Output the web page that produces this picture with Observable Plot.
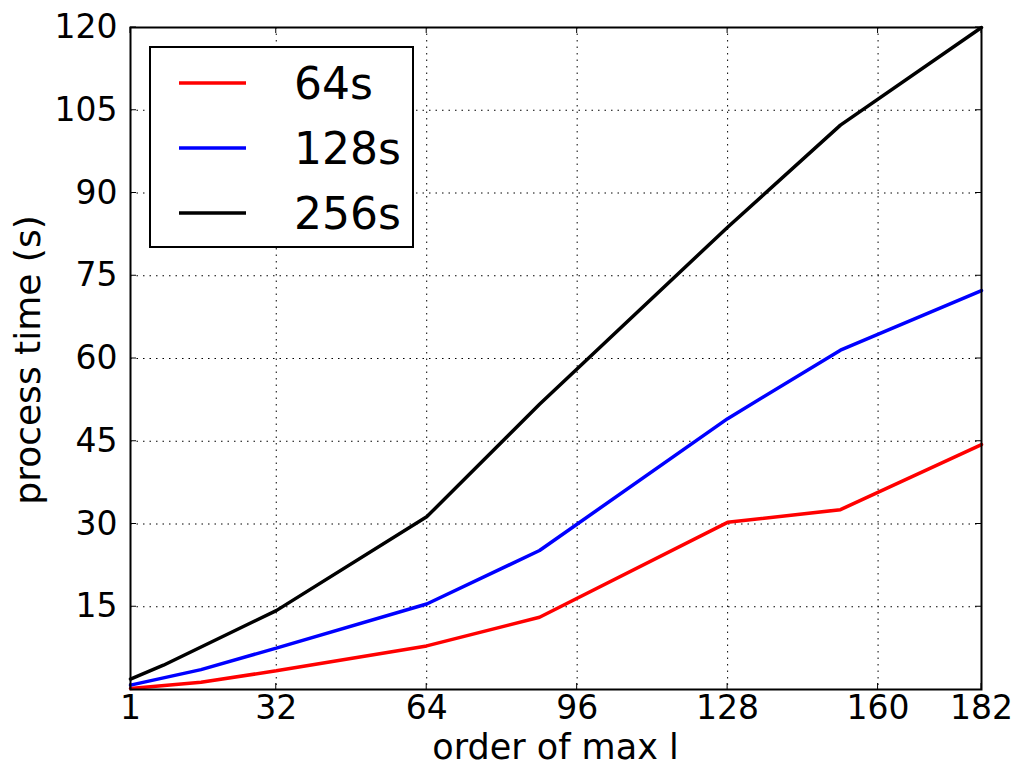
<!DOCTYPE html>
<html>
<head>
<meta charset="utf-8">
<script src="https://cdn.jsdelivr.net/npm/d3@7"></script>
<script src="https://cdn.jsdelivr.net/npm/@observablehq/plot@0.6"></script>
<style>
  html, body { margin: 0; padding: 0; background: #fff; }
  svg { display: block; }
</style>
</head>
<body>
<div id="chart"></div>
<script>
// Data
const seriesNames = ["64s", "128s", "256s"];
const seriesColors = ["#ff0000", "#0000ff", "#000000"];
const x64 = [1, 16, 32, 64, 88, 128, 152, 182];
const y64 = [0.2, 1.3, 3.4, 7.9, 13.1, 30.3, 32.6, 44.4];
const x128 = [1, 16, 32, 64, 88, 128, 152, 182];
const y128 = [0.8, 3.6, 7.5, 15.5, 25.2, 49.1, 61.5, 72.3];
const x256 = [1, 8, 32, 64, 88, 128, 152, 182];
const y256 = [1.9, 4.4, 14.3, 31.3, 51.7, 83.8, 102.3, 120];
const xTicks = [1, 32, 64, 96, 128, 160, 182];
const yTicks = [15, 30, 45, 60, 75, 90, 105, 120];
const xLabel = "order of max l";
const yLabel = "process time (s)";

const rows = [];
[[x64, y64], [x128, y128], [x256, y256]].forEach(([xs, ys], i) => {
  xs.forEach((x, j) => rows.push({series: seriesNames[i], x, y: ys[j]}));
});

const FONT = "DejaVu Sans";
const plot = Plot.plot({
  width: 1024,
  height: 767,
  marginLeft: 130,
  marginRight: 43,
  marginTop: 27,
  marginBottom: 78,
  style: {fontFamily: FONT, background: "#fff", color: "#000"},
  x: {domain: [1, 182]},
  y: {domain: [0, 120]},
  color: {domain: seriesNames, range: seriesColors},
  marks: [
    Plot.gridX(xTicks, {stroke: "#000", strokeOpacity: 1, strokeWidth: 1, strokeDasharray: "1.5,5"}),
    Plot.gridY(yTicks, {stroke: "#000", strokeOpacity: 1, strokeWidth: 1, strokeDasharray: "1.5,5"}),
    Plot.line(rows, {x: "x", y: "y", z: "series", stroke: "series", strokeWidth: 3.5, strokeLinejoin: "miter"}),
    Plot.frame({stroke: "#000", strokeWidth: 2}),
    Plot.axisX({ticks: xTicks, tickSize: 0, tickPadding: 6, fontSize: 33, label: null, tickFormat: d => String(d)}),
    Plot.axisY({ticks: yTicks, tickSize: 0, tickPadding: 13, fontSize: 33, label: null, tickFormat: d => String(d)})
  ]
});
document.getElementById("chart").appendChild(plot);

const svg = d3.select(plot);
const sx = plot.scale("x"), sy = plot.scale("y");
const L = 130, R = 1024 - 43, T = 27, B = 767 - 78;
const tl = 6;
const tg = svg.append("g").attr("stroke", "#000").attr("stroke-width", 1);
xTicks.forEach(v => {
  const px = sx.apply(v);
  tg.append("line").attr("x1", px).attr("x2", px).attr("y1", B).attr("y2", B - tl);
  tg.append("line").attr("x1", px).attr("x2", px).attr("y1", T).attr("y2", T + tl);
});
yTicks.forEach(v => {
  const py = sy.apply(v);
  tg.append("line").attr("x1", L).attr("x2", L + tl).attr("y1", py).attr("y2", py);
  tg.append("line").attr("x1", R).attr("x2", R - tl).attr("y1", py).attr("y2", py);
});

// Axis labels
svg.append("text")
  .attr("x", (L + R) / 2).attr("y", 759)
  .attr("text-anchor", "middle")
  .attr("font-family", FONT).attr("font-size", 35)
  .attr("fill", "#000")
  .text(xLabel);
svg.append("text")
  .attr("transform", `translate(40,${(T + B) / 2 + 2}) rotate(-90)`)
  .attr("text-anchor", "middle")
  .attr("font-family", FONT).attr("font-size", 36)
  .attr("fill", "#000")
  .text(yLabel);

// Legend
const lg = svg.append("g");
lg.append("rect").attr("x", 150).attr("y", 47).attr("width", 263).attr("height", 200)
  .attr("fill", "#fff").attr("stroke", "#000").attr("stroke-width", 2);
seriesNames.forEach((name, i) => {
  const yy = 83 + i * 65;
  lg.append("line").attr("x1", 179).attr("x2", 246).attr("y1", yy).attr("y2", yy)
    .attr("stroke", seriesColors[i]).attr("stroke-width", 3.5);
  lg.append("text").attr("x", 294).attr("y", yy + 16)
    .attr("text-anchor", "start")
    .attr("font-family", FONT).attr("font-size", 44).attr("fill", "#000")
    .text(name);
});
</script>
</body>
</html>
